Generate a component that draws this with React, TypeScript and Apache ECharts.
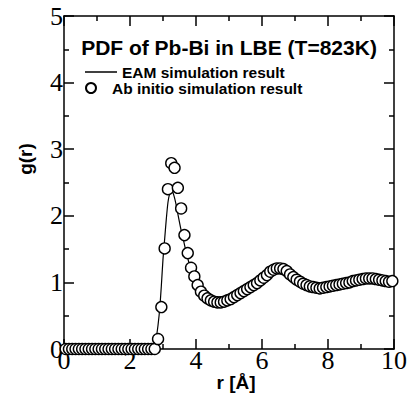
import React, { useEffect, useRef } from "react";
import * as echarts from "echarts";

// Ab initio simulation result (circles)
const abR = [
  0.05, 0.15, 0.25, 0.35, 0.45, 0.55, 0.65, 0.75, 0.85, 0.95,
  1.05, 1.15, 1.25, 1.35, 1.45, 1.55, 1.65, 1.75, 1.85, 1.95,
  2.05, 2.15, 2.25, 2.35, 2.45, 2.55, 2.65, 2.75, 2.85, 2.95,
  3.05, 3.15, 3.25, 3.35, 3.45, 3.55, 3.65, 3.75, 3.85, 3.95,
  4.05, 4.15, 4.25, 4.35, 4.45, 4.55, 4.65, 4.75, 4.85, 4.95,
  5.05, 5.15, 5.25, 5.35, 5.45, 5.55, 5.65, 5.75, 5.85, 5.95,
  6.05, 6.15, 6.25, 6.35, 6.45, 6.55, 6.65, 6.75, 6.85, 6.95,
  7.05, 7.15, 7.25, 7.35, 7.45, 7.55, 7.65, 7.75, 7.85, 7.95,
  8.05, 8.15, 8.25, 8.35, 8.45, 8.55, 8.65, 8.75, 8.85, 8.95,
  9.05, 9.15, 9.25, 9.35, 9.45, 9.55, 9.65, 9.75, 9.85, 9.95,
];
const abG = [
  0, 0, 0, 0, 0, 0, 0, 0, 0, 0,
  0, 0, 0, 0, 0, 0, 0, 0, 0, 0,
  0, 0, 0, 0, 0, 0, 0, 0.0, 0.15, 0.63,
  1.51, 2.4, 2.79, 2.72, 2.42, 2.11, 1.71, 1.44, 1.22, 1.09,
  0.96, 0.86, 0.8, 0.76, 0.73, 0.71, 0.7, 0.7, 0.71, 0.73,
  0.75, 0.78, 0.81, 0.84, 0.87, 0.9, 0.93, 0.96, 0.99, 1.03,
  1.07, 1.11, 1.16, 1.19, 1.21, 1.21, 1.2, 1.17, 1.12, 1.08,
  1.04, 1.01, 0.98, 0.96, 0.94, 0.93, 0.92, 0.91, 0.92, 0.93,
  0.94, 0.95, 0.96, 0.97, 0.98, 0.99, 1.0, 1.02, 1.03, 1.04,
  1.05, 1.06, 1.06, 1.06, 1.05, 1.04, 1.03, 1.02, 1.01, 1.02,
];

// EAM simulation result (line)
const eamR = [
  0, 2.7, 2.75, 2.8, 2.85, 2.9, 2.95, 3.0, 3.05, 3.1, 3.15, 3.2, 3.25, 3.3,
  3.35, 3.4, 3.45, 3.5, 3.55, 3.6, 3.7, 3.8, 3.9, 4.0, 4.1, 4.2, 4.3, 4.4,
  4.5, 4.6, 4.7, 4.8, 5.0, 5.2, 5.4, 5.6, 5.8, 6.0, 6.2, 6.4, 6.5, 6.6, 6.8,
  7.0, 7.2, 7.4, 7.6, 7.8, 8.0, 8.2, 8.4, 8.6, 8.8, 9.0, 9.2, 9.4, 9.6, 9.8, 10.0,
];
const eamG = [
  0, 0, 0.04, 0.18, 0.36, 0.6, 0.95, 1.35, 1.65, 1.95, 2.2, 2.33, 2.38, 2.35,
  2.27, 2.16, 2.03, 1.9, 1.78, 1.68, 1.46, 1.27, 1.11, 0.97, 0.87, 0.8, 0.76, 0.73,
  0.71, 0.7, 0.7, 0.7, 0.73, 0.79, 0.85, 0.91, 0.97, 1.04, 1.13, 1.19, 1.2, 1.2, 1.14,
  1.05, 0.99, 0.95, 0.92, 0.91, 0.93, 0.95, 0.97, 0.99, 1.02, 1.04, 1.06, 1.05, 1.03, 1.01, 1.02,
];

const titleText = "PDF of Pb-Bi in LBE (T=823K)";
const xName = "r [Å]";
const yName = "g(r)";
const eamName = "EAM simulation result";
const abName = "Ab initio simulation result";

const SANS = "Liberation Sans, Arial, sans-serif";
const SERIF = "Liberation Serif, Times New Roman, serif";

export default function App() {
  const ref = useRef<HTMLDivElement>(null);
  useEffect(() => {
    if (!ref.current) return;
    const chart = echarts.init(ref.current, null, { renderer: "svg" });
    const axisLine = { show: true, onZero: false, lineStyle: { color: "#000", width: 1.5 } };
    const tick = { show: true, inside: true, length: 10, lineStyle: { color: "#000", width: 1.5 } };
    const minor = { show: true, splitNumber: 2, length: 5, lineStyle: { color: "#000", width: 1.5 } };
    const label = { color: "#000", fontFamily: SERIF, fontSize: 26 };
    const legendText = { color: "#000", fontFamily: SANS, fontWeight: "bold", fontSize: 15.5, lineHeight: 14 };
    chart.setOption({
      animation: false,
      backgroundColor: "#fff",
      grid: { left: 64, right: 14, top: 16, bottom: 47, containLabel: false, outerBoundsMode: "none" },
      xAxis: [
        {
          type: "value", min: 0, max: 10, interval: 2, position: "bottom",
          axisLine, axisTick: tick, minorTick: minor, splitLine: { show: false },
          axisLabel: { ...label, margin: -2 },
        },
        {
          type: "value", min: 0, max: 10, interval: 2, position: "top",
          axisLine, axisTick: tick, minorTick: minor, splitLine: { show: false },
          axisLabel: { show: false },
        },
      ],
      yAxis: [
        {
          type: "value", min: 0, max: 5, interval: 1, position: "left",
          axisLine, axisTick: tick, minorTick: minor, splitLine: { show: false },
          axisLabel: { ...label, margin: 1 },
        },
        {
          type: "value", min: 0, max: 5, interval: 1, position: "right",
          axisLine, axisTick: tick, minorTick: minor, splitLine: { show: false },
          axisLabel: { show: false },
        },
      ],
      legend: [
        {
          data: [{ name: eamName, icon: "rect" }],
          left: 85, top: 64, itemWidth: 32, itemHeight: 1.5, itemGap: 4,
          textStyle: legendText, padding: 0,
        },
        {
          data: [abName],
          left: 85, top: 80, itemWidth: 32, itemHeight: 10, itemGap: 4,
          textStyle: legendText, padding: 0,
        },
      ],
      graphic: [
        {
          type: "text", x: 229, y: 47,
          style: {
            text: titleText, textAlign: "center", textVerticalAlign: "middle",
            fontFamily: SANS, fontWeight: "bold", fontSize: 21, fill: "#000",
          },
        },
        {
          type: "text", x: 25, y: 159, rotation: Math.PI / 2,
          style: {
            text: yName, textAlign: "center", textVerticalAlign: "middle",
            fontFamily: SANS, fontWeight: "bold", fontSize: 19, fill: "#000",
          },
        },
        {
          type: "text", x: 236, y: 382,
          style: {
            text: xName, textAlign: "center", textVerticalAlign: "middle",
            fontFamily: SANS, fontWeight: "bold", fontSize: 19, fill: "#000",
          },
        },
      ],
      series: [
        {
          name: eamName, type: "line", data: eamR.map((r, i) => [r, eamG[i]]),
          symbol: "none", smooth: 0.2, lineStyle: { color: "#000", width: 1.2 },
          itemStyle: { color: "#000" }, z: 2,
        },
        {
          name: abName, type: "scatter", data: abR.map((r, i) => [r, abG[i]]),
          symbol: "circle", symbolSize: 11, clip: false,
          itemStyle: { color: "#fff", borderColor: "#000", borderWidth: 1.4, opacity: 1 },
          z: 3,
        },
      ],
    });
    return () => chart.dispose();
  }, []);
  return <div ref={ref} style={{ width: 408, height: 396, position: "absolute", left: 0, top: 0 }} />;
}
